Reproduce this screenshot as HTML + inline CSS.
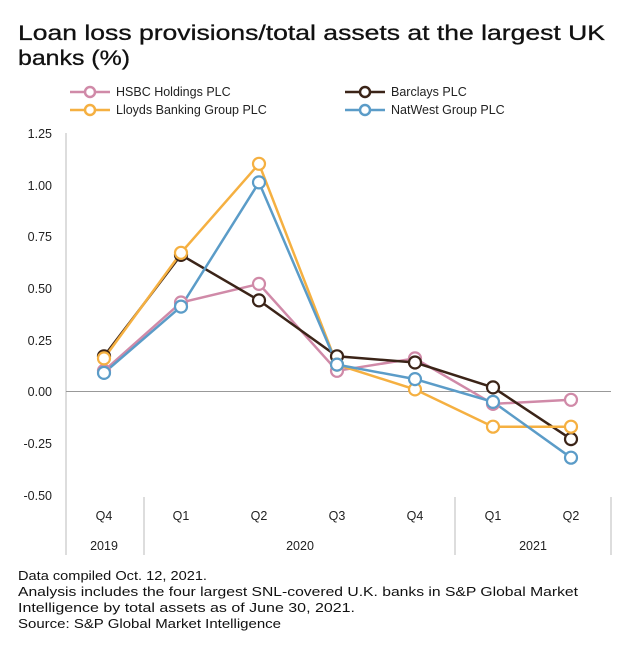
<!DOCTYPE html>
<html><head><style>
body{margin:0;background:#fff;width:626px;height:652px;overflow:hidden;font-family:"Liberation Sans",sans-serif;}
</style></head><body>
<svg width="626" height="652" style="position:absolute;left:0;top:0" font-family="Liberation Sans, sans-serif">
<g fill="#111" font-size="21" stroke="#111" stroke-width="0.3">
<text x="18" y="40" textLength="587" lengthAdjust="spacingAndGlyphs">Loan loss provisions/total assets at the largest UK</text>
<text x="18" y="65" textLength="112" lengthAdjust="spacingAndGlyphs">banks (%)</text>
</g>
<g fill="#111" font-size="12.5">
<text x="18" y="580" textLength="189" lengthAdjust="spacingAndGlyphs">Data compiled Oct. 12, 2021.</text>
<text x="18" y="596" textLength="560" lengthAdjust="spacingAndGlyphs">Analysis includes the four largest SNL-covered U.K. banks in S&amp;P Global Market</text>
<text x="18" y="612" textLength="337" lengthAdjust="spacingAndGlyphs">Intelligence by total assets as of June 30, 2021.</text>
<text x="18" y="628" textLength="263" lengthAdjust="spacingAndGlyphs">Source: S&amp;P Global Market Intelligence</text>
</g>
<g font-size="12.5" fill="#222">
<g stroke-width="2.5" fill="#fff">
<line x1="70" y1="92" x2="110" y2="92" stroke="#d08aa8"/><circle cx="90" cy="92" r="5" stroke="#d08aa8"/>
<line x1="345" y1="92" x2="385" y2="92" stroke="#3b2418"/><circle cx="365" cy="92" r="5" stroke="#3b2418"/>
<line x1="70" y1="110" x2="110" y2="110" stroke="#f5b041"/><circle cx="90" cy="110" r="5" stroke="#f5b041"/>
<line x1="345" y1="110" x2="385" y2="110" stroke="#5b9cc8"/><circle cx="365" cy="110" r="5" stroke="#5b9cc8"/>
</g>
<text x="116" y="96">HSBC Holdings PLC</text>
<text x="391" y="96">Barclays PLC</text>
<text x="116" y="114">Lloyds Banking Group PLC</text>
<text x="391" y="114">NatWest Group PLC</text>
<g text-anchor="end">
<text x="52" y="138">1.25</text><text x="52" y="190">1.00</text><text x="52" y="241">0.75</text>
<text x="52" y="293">0.50</text><text x="52" y="345">0.25</text><text x="52" y="396">0.00</text>
<text x="52" y="448">-0.25</text><text x="52" y="500">-0.50</text>
</g>
<g text-anchor="middle">
<text x="104" y="520">Q4</text><text x="181" y="520">Q1</text><text x="259" y="520">Q2</text><text x="337" y="520">Q3</text><text x="415" y="520">Q4</text><text x="493" y="520">Q1</text><text x="571" y="520">Q2</text>
<text x="104" y="550">2019</text><text x="300" y="550">2020</text><text x="533" y="550">2021</text>
</g>
</g>
<g stroke="#bbb" stroke-width="1">
<line x1="66" y1="133" x2="66" y2="555"/>
<line x1="66" y1="391.5" x2="611" y2="391.5" stroke="#999"/>
<line x1="144" y1="497" x2="144" y2="555"/><line x1="455" y1="497" x2="455" y2="555"/><line x1="611" y1="497" x2="611" y2="555"/>
</g>
<g fill="none" stroke-width="2.5">
<polyline stroke="#d08aa8" points="104,370.8 181,302.5 259,283.9 337,370.8 415,358.4 493,403.9 571,399.8"/>
<polyline stroke="#3b2418" points="104,356.3 181,254.9 259,300.4 337,356.3 415,362.5 493,387.4 571,439.1"/>
<polyline stroke="#f5b041" points="104,358.4 181,252.8 259,163.8 337,364.6 415,389.4 493,426.7 571,426.7"/>
<polyline stroke="#5b9cc8" points="104,372.9 181,306.6 259,182.4 337,364.6 415,379.1 493,401.9 571,457.7"/>
</g>
<g fill="#fff" stroke-width="2.2">
<g stroke="#d08aa8"><circle cx="104" cy="370.8" r="6"/><circle cx="181" cy="302.5" r="6"/><circle cx="259" cy="283.9" r="6"/><circle cx="337" cy="370.8" r="6"/><circle cx="415" cy="358.4" r="6"/><circle cx="493" cy="403.9" r="6"/><circle cx="571" cy="399.8" r="6"/></g>
<g stroke="#3b2418"><circle cx="104" cy="356.3" r="6"/><circle cx="181" cy="254.9" r="6"/><circle cx="259" cy="300.4" r="6"/><circle cx="337" cy="356.3" r="6"/><circle cx="415" cy="362.5" r="6"/><circle cx="493" cy="387.4" r="6"/><circle cx="571" cy="439.1" r="6"/></g>
<g stroke="#f5b041"><circle cx="104" cy="358.4" r="6"/><circle cx="181" cy="252.8" r="6"/><circle cx="259" cy="163.8" r="6"/><circle cx="337" cy="364.6" r="6"/><circle cx="415" cy="389.4" r="6"/><circle cx="493" cy="426.7" r="6"/><circle cx="571" cy="426.7" r="6"/></g>
<g stroke="#5b9cc8"><circle cx="104" cy="372.9" r="6"/><circle cx="181" cy="306.6" r="6"/><circle cx="259" cy="182.4" r="6"/><circle cx="337" cy="364.6" r="6"/><circle cx="415" cy="379.1" r="6"/><circle cx="493" cy="401.9" r="6"/><circle cx="571" cy="457.7" r="6"/></g>
</g>
</svg>
</body></html>
